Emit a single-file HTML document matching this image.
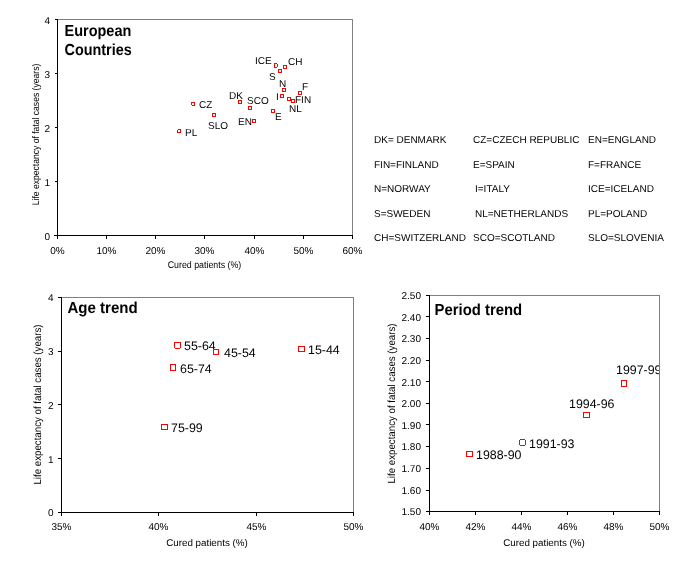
<!DOCTYPE html>
<html><head><meta charset="utf-8"><style>
html,body{margin:0;padding:0;background:#fff;width:693px;height:567px;overflow:hidden}
svg{display:block}
svg{will-change:transform}
text{font-family:"Liberation Sans", sans-serif;fill:#000;text-rendering:geometricPrecision}
</style></head><body>
<svg width="693" height="567" viewBox="0 0 693 567" shape-rendering="crispEdges">
<rect x="58" y="19" width="295" height="1" fill="#808080"/>
<rect x="352" y="19" width="1" height="217" fill="#808080"/>
<rect x="57" y="19" width="1" height="220" fill="#000"/>
<rect x="54" y="235" width="299" height="1" fill="#000"/>
<rect x="55" y="235" width="2" height="1" fill="#000"/>
<text x="50" y="240" font-size="10" text-anchor="end">0</text>
<rect x="55" y="181" width="2" height="1" fill="#000"/>
<text x="50" y="186" font-size="10" text-anchor="end">1</text>
<rect x="55" y="127" width="2" height="1" fill="#000"/>
<text x="50" y="132" font-size="10" text-anchor="end">2</text>
<rect x="55" y="73" width="2" height="1" fill="#000"/>
<text x="50" y="78" font-size="10" text-anchor="end">3</text>
<rect x="55" y="19" width="2" height="1" fill="#000"/>
<text x="50" y="24" font-size="10" text-anchor="end">4</text>
<rect x="57" y="236" width="1" height="3" fill="#000"/>
<text x="57.4" y="254" font-size="10" text-anchor="middle">0%</text>
<rect x="106" y="236" width="1" height="3" fill="#000"/>
<text x="106.4" y="254" font-size="10" text-anchor="middle">10%</text>
<rect x="155" y="236" width="1" height="3" fill="#000"/>
<text x="155.4" y="254" font-size="10" text-anchor="middle">20%</text>
<rect x="204" y="236" width="1" height="3" fill="#000"/>
<text x="204.4" y="254" font-size="10" text-anchor="middle">30%</text>
<rect x="254" y="236" width="1" height="3" fill="#000"/>
<text x="254.4" y="254" font-size="10" text-anchor="middle">40%</text>
<rect x="303" y="236" width="1" height="3" fill="#000"/>
<text x="303.4" y="254" font-size="10" text-anchor="middle">50%</text>
<rect x="352" y="236" width="1" height="3" fill="#000"/>
<text x="352.4" y="254" font-size="10" text-anchor="middle">60%</text>
<text x="0" y="0" font-size="9.8" text-anchor="middle" transform="translate(204.5,268) scale(0.9,1)">Cured patients (%)</text>
<text x="0" y="0" font-size="9.7" text-anchor="middle" transform="translate(38.7,134.5) rotate(-90) scale(0.885,1)">Life expectancy of fatal cases (years)</text>
<text x="0" y="0" font-size="16" font-weight="bold" text-rendering="geometricPrecision" transform="translate(64.5,36) scale(0.905,1)">European</text>
<text x="0" y="0" font-size="16" font-weight="bold" text-rendering="geometricPrecision" transform="translate(64.5,55) scale(0.9,1)">Countries</text>
<rect x="178" y="129" width="3" height="1" fill="#f00"/>
<rect x="177" y="132" width="4" height="1" fill="#f00"/>
<rect x="177" y="130" width="1" height="2" fill="#f00"/>
<rect x="180" y="130" width="1" height="2" fill="#f00"/>
<rect x="191" y="102" width="4" height="1" fill="#f00"/>
<rect x="192" y="105" width="3" height="1" fill="#f00"/>
<rect x="191" y="103" width="1" height="2" fill="#f00"/>
<rect x="194" y="103" width="1" height="2" fill="#f00"/>
<rect x="212" y="113" width="4" height="1" fill="#f00"/>
<rect x="212" y="116" width="4" height="1" fill="#f00"/>
<rect x="212" y="114" width="1" height="2" fill="#f00"/>
<rect x="215" y="114" width="1" height="2" fill="#f00"/>
<rect x="238" y="100" width="4" height="1" fill="#f00"/>
<rect x="238" y="103" width="4" height="1" fill="#f00"/>
<rect x="238" y="101" width="1" height="2" fill="#f00"/>
<rect x="241" y="101" width="1" height="2" fill="#f00"/>
<rect x="248" y="106" width="4" height="1" fill="#f00"/>
<rect x="248" y="109" width="4" height="1" fill="#f00"/>
<rect x="248" y="107" width="1" height="2" fill="#f00"/>
<rect x="251" y="107" width="1" height="2" fill="#f00"/>
<rect x="252" y="119" width="4" height="1" fill="#f00"/>
<rect x="252" y="122" width="4" height="1" fill="#f00"/>
<rect x="252" y="120" width="1" height="2" fill="#f00"/>
<rect x="255" y="120" width="1" height="2" fill="#f00"/>
<rect x="271" y="109" width="4" height="1" fill="#f00"/>
<rect x="271" y="112" width="4" height="1" fill="#f00"/>
<rect x="271" y="110" width="1" height="2" fill="#f00"/>
<rect x="274" y="110" width="1" height="2" fill="#f00"/>
<rect x="280" y="94" width="4" height="1" fill="#f00"/>
<rect x="280" y="97" width="4" height="1" fill="#f00"/>
<rect x="280" y="95" width="1" height="2" fill="#f00"/>
<rect x="283" y="95" width="1" height="2" fill="#f00"/>
<rect x="274" y="63" width="3" height="1" fill="#f00"/>
<rect x="274" y="67" width="3" height="1" fill="#f00"/>
<rect x="274" y="64" width="1" height="3" fill="#f00"/>
<rect x="277" y="64" width="1" height="3" fill="#f00"/>
<rect x="283" y="65" width="4" height="1" fill="#f00"/>
<rect x="283" y="68" width="4" height="1" fill="#f00"/>
<rect x="283" y="66" width="1" height="2" fill="#f00"/>
<rect x="286" y="66" width="1" height="2" fill="#f00"/>
<rect x="278" y="69" width="4" height="1" fill="#f00"/>
<rect x="278" y="72" width="4" height="1" fill="#f00"/>
<rect x="278" y="70" width="1" height="2" fill="#f00"/>
<rect x="281" y="70" width="1" height="2" fill="#f00"/>
<rect x="282" y="88" width="4" height="1" fill="#f00"/>
<rect x="282" y="91" width="4" height="1" fill="#f00"/>
<rect x="282" y="89" width="1" height="2" fill="#f00"/>
<rect x="285" y="89" width="1" height="2" fill="#f00"/>
<rect x="298" y="91" width="4" height="1" fill="#f00"/>
<rect x="298" y="94" width="4" height="1" fill="#f00"/>
<rect x="298" y="92" width="1" height="2" fill="#f00"/>
<rect x="301" y="92" width="1" height="2" fill="#f00"/>
<rect x="287" y="97" width="4" height="1" fill="#f00"/>
<rect x="287" y="100" width="4" height="1" fill="#f00"/>
<rect x="287" y="98" width="1" height="2" fill="#f00"/>
<rect x="290" y="98" width="1" height="2" fill="#f00"/>
<rect x="291" y="99" width="4" height="1" fill="#f00"/>
<rect x="291" y="102" width="4" height="1" fill="#f00"/>
<rect x="291" y="100" width="1" height="2" fill="#f00"/>
<rect x="294" y="100" width="1" height="2" fill="#f00"/>
<text x="185" y="136" font-size="10">PL</text>
<text x="199" y="108" font-size="10">CZ</text>
<text x="208" y="129" font-size="10">SLO</text>
<text x="229" y="99" font-size="10">DK</text>
<text x="247" y="104" font-size="10">SCO</text>
<text x="238" y="125" font-size="10">EN</text>
<text x="275" y="120" font-size="10">E</text>
<text x="276" y="100" font-size="10">I</text>
<text x="255" y="64" font-size="10">ICE</text>
<text x="288" y="65" font-size="10">CH</text>
<text x="269" y="80" font-size="10">S</text>
<text x="279" y="87" font-size="10">N</text>
<text x="302" y="90" font-size="10">F</text>
<text x="295" y="103" font-size="10">FIN</text>
<text x="289" y="112" font-size="10">NL</text>
<text x="374" y="143" font-size="10">DK= DENMARK</text>
<text x="473" y="143" font-size="10">CZ=CZECH REPUBLIC</text>
<text x="588" y="143" font-size="10">EN=ENGLAND</text>
<text x="374" y="168" font-size="10">FIN=FINLAND</text>
<text x="473" y="168" font-size="10">E=SPAIN</text>
<text x="588" y="168" font-size="10">F=FRANCE</text>
<text x="374" y="192" font-size="10">N=NORWAY</text>
<text x="475" y="192" font-size="10">I=ITALY</text>
<text x="588" y="192" font-size="10">ICE=ICELAND</text>
<text x="374" y="217" font-size="10">S=SWEDEN</text>
<text x="475" y="217" font-size="10">NL=NETHERLANDS</text>
<text x="588" y="217" font-size="10">PL=POLAND</text>
<text x="374" y="241" font-size="10">CH=SWITZERLAND</text>
<text x="473" y="241" font-size="10">SCO=SCOTLAND</text>
<text x="588" y="241" font-size="10">SLO=SLOVENIA</text>
<rect x="62" y="297" width="292" height="1" fill="#808080"/>
<rect x="353" y="297" width="1" height="216" fill="#808080"/>
<rect x="61" y="297" width="1" height="219" fill="#000"/>
<rect x="58" y="512" width="296" height="1" fill="#000"/>
<rect x="58" y="512" width="3" height="1" fill="#000"/>
<text x="53.5" y="516" font-size="10" text-anchor="end">0</text>
<rect x="58" y="458" width="3" height="1" fill="#000"/>
<text x="53.5" y="463" font-size="10" text-anchor="end">1</text>
<rect x="58" y="404" width="3" height="1" fill="#000"/>
<text x="53.5" y="409" font-size="10" text-anchor="end">2</text>
<rect x="58" y="351" width="3" height="1" fill="#000"/>
<text x="53.5" y="355" font-size="10" text-anchor="end">3</text>
<rect x="58" y="297" width="3" height="1" fill="#000"/>
<text x="53.5" y="301" font-size="10" text-anchor="end">4</text>
<rect x="61" y="513" width="1" height="3" fill="#000"/>
<text x="61.5" y="530" font-size="10" text-anchor="middle">35%</text>
<rect x="158" y="513" width="1" height="3" fill="#000"/>
<text x="158.5" y="530" font-size="10" text-anchor="middle">40%</text>
<rect x="256" y="513" width="1" height="3" fill="#000"/>
<text x="256.5" y="530" font-size="10" text-anchor="middle">45%</text>
<rect x="353" y="513" width="1" height="3" fill="#000"/>
<text x="353.5" y="530" font-size="10" text-anchor="middle">50%</text>
<text x="207" y="546" font-size="9.8" text-anchor="middle">Cured patients (%)</text>
<text x="0" y="0" font-size="10.4" text-anchor="middle" transform="translate(41.1,404.5) rotate(-90) scale(0.933,1)">Life expectancy of fatal cases (years)</text>
<text x="0" y="0" font-size="16" font-weight="bold" text-rendering="geometricPrecision" transform="translate(67.5,313) scale(0.94,1)">Age trend</text>
<rect x="174" y="342" width="7" height="1" fill="#f00"/>
<rect x="175" y="348" width="5" height="1" fill="#f00"/>
<rect x="174" y="343" width="1" height="5" fill="#f00"/>
<rect x="180" y="343" width="1" height="5" fill="#f00"/>
<text x="184" y="350" font-size="12.4">55-64</text>
<rect x="213" y="349" width="6" height="1" fill="#f00"/>
<rect x="213" y="354" width="6" height="1" fill="#f00"/>
<rect x="213" y="350" width="1" height="4" fill="#f00"/>
<rect x="218" y="350" width="1" height="4" fill="#f00"/>
<text x="224" y="357" font-size="12.4">45-54</text>
<rect x="170" y="364" width="6" height="1" fill="#f00"/>
<rect x="170" y="370" width="6" height="1" fill="#f00"/>
<rect x="170" y="365" width="1" height="5" fill="#f00"/>
<rect x="175" y="365" width="1" height="5" fill="#f00"/>
<text x="180" y="373" font-size="12.4">65-74</text>
<rect x="161" y="424" width="7" height="1" fill="#f00"/>
<rect x="161" y="429" width="7" height="1" fill="#f00"/>
<rect x="161" y="425" width="1" height="4" fill="#f00"/>
<rect x="167" y="425" width="1" height="4" fill="#f00"/>
<text x="171" y="432" font-size="12.4">75-99</text>
<rect x="298" y="346" width="7" height="1" fill="#f00"/>
<rect x="298" y="351" width="7" height="1" fill="#f00"/>
<rect x="298" y="347" width="1" height="4" fill="#f00"/>
<rect x="304" y="347" width="1" height="4" fill="#f00"/>
<text x="308" y="354" font-size="12.4">15-44</text>
<rect x="430" y="295" width="230" height="1" fill="#808080"/>
<rect x="659" y="295" width="1" height="217" fill="#808080"/>
<rect x="429" y="295" width="1" height="220" fill="#000"/>
<rect x="426" y="511" width="234" height="1" fill="#000"/>
<rect x="426" y="511" width="3" height="1" fill="#000"/>
<text x="421" y="515" font-size="10" text-anchor="end">1.50</text>
<rect x="426" y="490" width="3" height="1" fill="#000"/>
<text x="421" y="494" font-size="10" text-anchor="end">1.60</text>
<rect x="426" y="468" width="3" height="1" fill="#000"/>
<text x="421" y="472" font-size="10" text-anchor="end">1.70</text>
<rect x="426" y="446" width="3" height="1" fill="#000"/>
<text x="421" y="450" font-size="10" text-anchor="end">1.80</text>
<rect x="426" y="424" width="3" height="1" fill="#000"/>
<text x="421" y="429" font-size="10" text-anchor="end">1.90</text>
<rect x="426" y="403" width="3" height="1" fill="#000"/>
<text x="421" y="407" font-size="10" text-anchor="end">2.00</text>
<rect x="426" y="381" width="3" height="1" fill="#000"/>
<text x="421" y="386" font-size="10" text-anchor="end">2.10</text>
<rect x="426" y="360" width="3" height="1" fill="#000"/>
<text x="421" y="364" font-size="10" text-anchor="end">2.20</text>
<rect x="426" y="338" width="3" height="1" fill="#000"/>
<text x="421" y="342" font-size="10" text-anchor="end">2.30</text>
<rect x="426" y="316" width="3" height="1" fill="#000"/>
<text x="421" y="321" font-size="10" text-anchor="end">2.40</text>
<rect x="426" y="295" width="3" height="1" fill="#000"/>
<text x="421" y="299" font-size="10" text-anchor="end">2.50</text>
<rect x="429" y="512" width="1" height="3" fill="#000"/>
<text x="429.5" y="530" font-size="10" text-anchor="middle">40%</text>
<rect x="475" y="512" width="1" height="3" fill="#000"/>
<text x="475.5" y="530" font-size="10" text-anchor="middle">42%</text>
<rect x="521" y="512" width="1" height="3" fill="#000"/>
<text x="521.5" y="530" font-size="10" text-anchor="middle">44%</text>
<rect x="567" y="512" width="1" height="3" fill="#000"/>
<text x="567.5" y="530" font-size="10" text-anchor="middle">46%</text>
<rect x="613" y="512" width="1" height="3" fill="#000"/>
<text x="613.5" y="530" font-size="10" text-anchor="middle">48%</text>
<rect x="659" y="512" width="1" height="3" fill="#000"/>
<text x="659.5" y="530" font-size="10" text-anchor="middle">50%</text>
<text x="544" y="545.5" font-size="9.8" text-anchor="middle">Cured patients (%)</text>
<text x="0" y="0" font-size="10.4" text-anchor="middle" transform="translate(395.1,403.5) rotate(-90) scale(0.933,1)">Life expectancy of fatal cases (years)</text>
<text x="0" y="0" font-size="16" font-weight="bold" text-rendering="geometricPrecision" transform="translate(434.5,315) scale(0.93,1)">Period trend</text>
<clipPath id="c3"><rect x="429" y="295" width="230" height="216"/></clipPath><g clip-path="url(#c3)">
<rect x="466" y="451" width="7" height="1" fill="#f00"/>
<rect x="466" y="456" width="7" height="1" fill="#f00"/>
<rect x="466" y="452" width="1" height="4" fill="#f00"/>
<rect x="472" y="452" width="1" height="4" fill="#f00"/>
<text x="476" y="459" font-size="12.4">1988-90</text>
<rect x="520" y="439" width="5" height="1" fill="#f00"/>
<rect x="520" y="445" width="5" height="1" fill="#f00"/>
<rect x="519" y="440" width="1" height="5" fill="#f00"/>
<rect x="525" y="440" width="1" height="5" fill="#f00"/>
<text x="529" y="448" font-size="12.4">1991-93</text>
<rect x="583" y="412" width="7" height="1" fill="#f00"/>
<rect x="583" y="417" width="7" height="1" fill="#f00"/>
<rect x="583" y="413" width="1" height="4" fill="#f00"/>
<rect x="589" y="413" width="1" height="4" fill="#f00"/>
<text x="569" y="408" font-size="12.4">1994-96</text>
<rect x="621" y="380" width="6" height="1" fill="#f00"/>
<rect x="621" y="386" width="6" height="1" fill="#f00"/>
<rect x="621" y="381" width="1" height="5" fill="#f00"/>
<rect x="626" y="381" width="1" height="5" fill="#f00"/>
<text x="616" y="374" font-size="12.4">1997-99</text>
</g>
</svg>
</body></html>
